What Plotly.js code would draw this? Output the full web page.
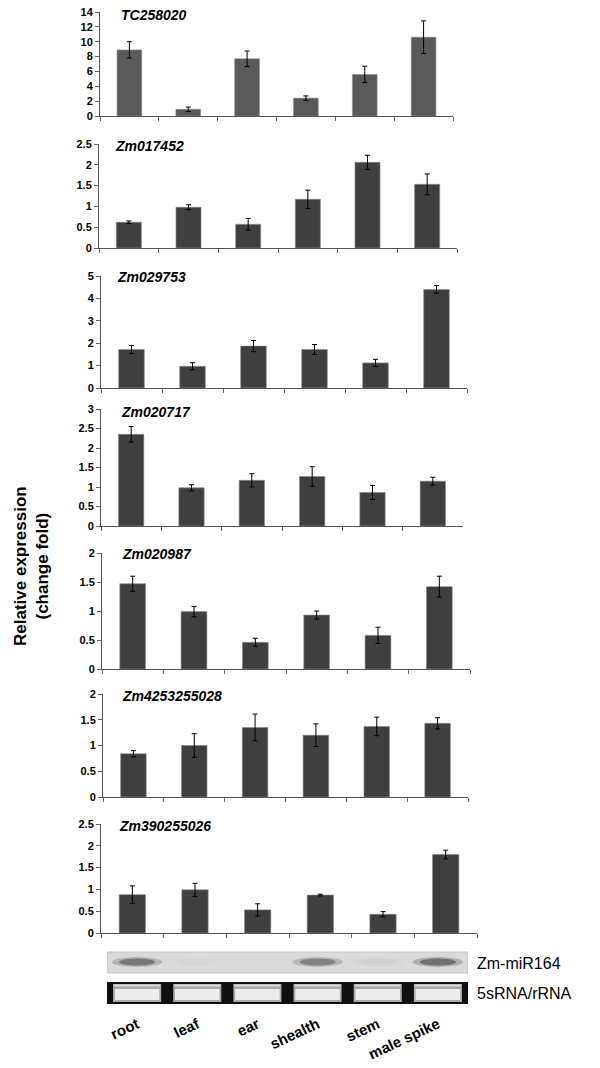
<!DOCTYPE html>
<html>
<head>
<meta charset="utf-8">
<script src="https://cdn.plot.ly/plotly-3.0.1.min.js"></script>
<style>html,body{margin:0;padding:0;background:#fff;}#chart{width:600px;height:1068px;}</style>
</head>
<body>
<div id="chart"></div>
<script>
// ---- data ----
const tissues = ['root', 'leaf', 'ear', 'shealth', 'stem', 'male spike'];
const geneNames = ['TC258020', 'Zm017452', 'Zm029753', 'Zm020717', 'Zm020987', 'Zm4253255028', 'Zm390255026'];

const tc258020 = [8.9, 0.9, 7.7, 2.4, 5.6, 10.6];
const tc258020Err = [1.1, 0.3, 1.05, 0.3, 1.1, 2.2];
const zm017452 = [0.62, 0.98, 0.57, 1.17, 2.06, 1.53];
const zm017452Err = [0.03, 0.06, 0.14, 0.22, 0.17, 0.25];
const zm029753 = [1.72, 0.97, 1.87, 1.72, 1.12, 4.4];
const zm029753Err = [0.18, 0.16, 0.25, 0.22, 0.16, 0.17];
const zm020717 = [2.35, 0.98, 1.17, 1.27, 0.86, 1.15];
const zm020717Err = [0.2, 0.08, 0.17, 0.25, 0.18, 0.1];
const zm020987 = [1.47, 0.99, 0.46, 0.93, 0.58, 1.42];
const zm020987Err = [0.13, 0.09, 0.07, 0.07, 0.14, 0.18];
const zm4253255028 = [0.84, 1.0, 1.35, 1.2, 1.37, 1.43];
const zm4253255028Err = [0.06, 0.23, 0.26, 0.22, 0.18, 0.11];
const zm390255026 = [0.88, 0.99, 0.53, 0.87, 0.43, 1.8];
const zm390255026Err = [0.2, 0.15, 0.14, 0.02, 0.06, 0.1];

const yMax = [14, 2.5, 5, 3, 2, 2, 2.5];
const yStep = [2, 0.5, 1, 0.5, 0.5, 0.5, 0.5];

// northern blot signal (relative band darkness) for Zm-miR164
const mirSignal = [0.75, 0.03, 0.0, 0.65, 0.06, 0.85];

// ---- layout helpers (pixel geometry) ----
const W = 600, H = 1068;
const px = v => v / W;
const py = v => 1 - v / H;

const allValues = [tc258020, zm017452, zm029753, zm020717, zm020987, zm4253255028, zm390255026];
const allErrors = [tc258020Err, zm017452Err, zm029753Err, zm020717Err, zm020987Err, zm4253255028Err, zm390255026Err];

const panelX = [[100, 453], [99, 457], [101, 467], [101, 463], [102, 470], [103, 468], [101, 477]];
const panelY = [[12, 116], [144, 248], [276, 388], [409, 526], [553, 669], [694, 797], [824, 933]];
const titlePos = [[119, 15], [113, 146], [115, 277], [119, 412], [120, 554], [120, 696], [117, 826]];

const FONT = 'Liberation Sans, Arial, sans-serif';

const traces = [];
const layout = {
  width: W, height: H,
  margin: {l: 0, r: 0, t: 0, b: 0},
  paper_bgcolor: '#ffffff',
  plot_bgcolor: 'rgba(0,0,0,0)',
  showlegend: false,
  font: {family: FONT, color: '#000'},
  annotations: [],
  shapes: []
};

for (let i = 0; i < 7; i++) {
  const n = i + 1;
  const xa = 'x' + n, ya = 'y' + n;
  traces.push({
    type: 'bar',
    x: tissues,
    y: allValues[i],
    xaxis: xa, yaxis: ya,
    width: 0.42,
    marker: {color: i === 0 ? '#5a5a5a' : '#3f3f3f', line: {color: '#8a8a8a', width: 0.6}},
    error_y: {type: 'data', array: allErrors[i], visible: true, color: '#000', thickness: 1, width: 2.5},
    hoverinfo: 'skip'
  });
  layout['xaxis' + n] = {
    domain: [px(panelX[i][0]), px(panelX[i][1])],
    anchor: ya,
    type: 'category',
    range: [-0.5, 5.5],
    showticklabels: false,
    ticks: 'outside', tickson: 'boundaries', ticklen: 4, tickcolor: '#666', tickwidth: 1,
    showline: true, linecolor: '#555', linewidth: 1,
    showgrid: false, zeroline: false, fixedrange: true
  };
  layout['yaxis' + n] = {
    domain: [py(panelY[i][1]), py(panelY[i][0])],
    anchor: xa,
    range: [0, yMax[i]],
    dtick: yStep[i], tick0: 0,
    ticks: 'outside', ticklen: 4, tickcolor: '#666', tickwidth: 1,
    showline: true, linecolor: '#555', linewidth: 1,
    showgrid: false, zeroline: false, fixedrange: true,
    tickfont: {family: FONT, size: 11, weight: 'bold', color: '#000'}
  };
  layout.annotations.push({
    xref: 'paper', yref: 'paper',
    x: px(titlePos[i][0]), y: py(titlePos[i][1]),
    xanchor: 'left', yanchor: 'middle',
    text: '<b><i>' + geneNames[i] + '</i></b>',
    showarrow: false,
    font: {family: FONT, size: 14, color: '#000'}
  });
}

// ---- gel panel (axis 8) ----
traces.push({
  type: 'scatter', mode: 'markers',
  x: tissues, y: mirSignal,
  xaxis: 'x8', yaxis: 'y8',
  marker: {opacity: 0, size: 1},
  hoverinfo: 'skip'
});
layout.xaxis8 = {
  domain: [px(107), px(468)],
  anchor: 'y8',
  type: 'category',
  range: [-0.5, 5.5],
  showline: false, showgrid: false, zeroline: false, ticks: '',
  tickangle: -25,
  ticklabelstandoff: 8,
  tickfont: {family: FONT, size: 15, weight: 'bold', color: '#000'},
  fixedrange: true
};
layout.yaxis8 = {
  domain: [py(1004), py(952)],
  anchor: 'x8',
  range: [0, 1], visible: false, fixedrange: true
};

// top band (Zm-miR164)
layout.shapes.push({type: 'rect', xref: 'x8', yref: 'paper', x0: -0.5, x1: 5.5, y0: py(973), y1: py(952),
  fillcolor: '#dadada', line: {color: '#c4c4c4', width: 1}, layer: 'below'});
mirSignal.forEach((s, i) => {
  if (s <= 0.01) return;
  layout.shapes.push({type: 'circle', xref: 'x8', yref: 'paper', x0: i - 0.42, x1: i + 0.42, y0: py(967), y1: py(957),
    fillcolor: 'rgba(70,70,70,' + (0.35 * s).toFixed(3) + ')', line: {width: 0}});
  layout.shapes.push({type: 'circle', xref: 'x8', yref: 'paper', x0: i - 0.3, x1: i + 0.3, y0: py(965.5), y1: py(958.5),
    fillcolor: 'rgba(40,40,40,' + (0.55 * s).toFixed(3) + ')', line: {width: 0}});
});

// bottom band (5sRNA/rRNA)
layout.shapes.push({type: 'rect', xref: 'x8', yref: 'paper', x0: -0.5, x1: 5.5, y0: py(1004), y1: py(982),
  fillcolor: '#101010', line: {width: 0}, layer: 'below'});
tissues.forEach((t, i) => {
  layout.shapes.push({type: 'rect', xref: 'x8', yref: 'paper', x0: i - 0.4, x1: i + 0.4, y0: py(1002), y1: py(984),
    fillcolor: '#a9a9a9', line: {width: 0}});
  layout.shapes.push({type: 'rect', xref: 'x8', yref: 'paper', x0: i - 0.38, x1: i + 0.38, y0: py(986.5), y1: py(984.5),
    fillcolor: '#d8d8d8', line: {width: 0}});
  layout.shapes.push({type: 'rect', xref: 'x8', yref: 'paper', x0: i - 0.37, x1: i + 0.37, y0: py(1000), y1: py(989),
    fillcolor: '#ededed', line: {width: 0}});
});

layout.annotations.push({xref: 'paper', yref: 'paper', x: px(475), y: py(963), xanchor: 'left', yanchor: 'middle',
  text: 'Zm-miR164', showarrow: false, font: {family: FONT, size: 16, color: '#000'}});
layout.annotations.push({xref: 'paper', yref: 'paper', x: px(475), y: py(993), xanchor: 'left', yanchor: 'middle',
  text: '5sRNA/rRNA', showarrow: false, font: {family: FONT, size: 16, color: '#000'}});

// shared y title
layout.annotations.push({xref: 'paper', yref: 'paper', x: px(31), y: py(566), xanchor: 'center', yanchor: 'middle',
  text: '<b>Relative expression<br>(change fold)</b>', textangle: -90, showarrow: false,
  font: {family: FONT, size: 17, color: '#000'}});

Plotly.newPlot('chart', traces, layout, {staticPlot: true, displayModeBar: false});
</script>
</body>
</html>
